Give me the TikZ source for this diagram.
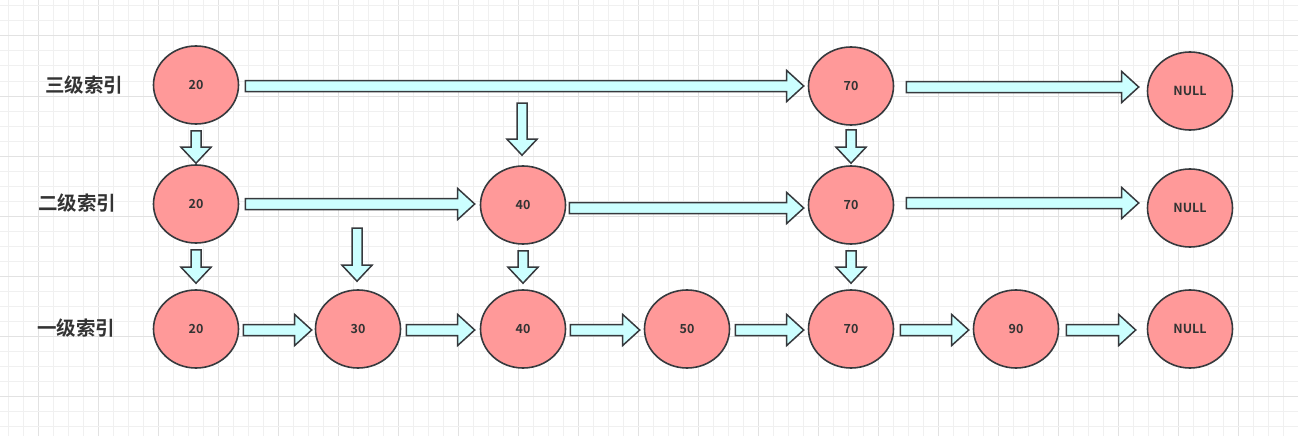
\documentclass[tikz,border=0pt]{standalone}
\usepackage{fontspec}
\usetikzlibrary{shapes.geometric,calc}
\newfontfamily\cjk{Noto Sans CJK SC}[BoldFont={Noto Sans CJK SC Bold}]
\definecolor{nodefill}{HTML}{FF9999}
\definecolor{arrfill}{HTML}{CCFFFF}
\definecolor{edge}{HTML}{36393D}
\definecolor{txt}{HTML}{333333}
\definecolor{gridminor}{HTML}{F0F0F0}
\definecolor{gridmajor}{HTML}{E2E2E2}
\tikzset{
  keynode/.style={ellipse, draw=edge, fill=nodefill, line width=1.6pt,
    minimum width=85pt, minimum height=78pt, inner sep=0pt,
    font=\cjk\bfseries\fontsize{12.5}{14}\selectfont, text=txt},
  lvl/.style={font=\cjk\bfseries\fontsize{19.5}{22}\selectfont, text=txt, inner sep=0pt},
  blk/.style={draw=edge, fill=arrfill, line width=1.5pt, line join=miter}
}
% horizontal block arrow from #1 to #2 (coordinates)
\newcommand{\harr}[2]{%
  \draw[blk] let \p1=#1, \p2=#2 in
    (\x1,\y1+5.5pt) -- (\x2-17pt,\y1+5.5pt) -- (\x2-17pt,\y1+15.5pt) -- (\x2,\y1)
    -- (\x2-17pt,\y1-15.5pt) -- (\x2-17pt,\y1-5.5pt) -- (\x1,\y1-5.5pt) -- cycle;}
% vertical (downward) block arrow from #1 to #2
\newcommand{\varr}[2]{%
  \draw[blk] let \p1=#1, \p2=#2 in
    (\x1-5pt,\y1) -- (\x1-5pt,\y2+16pt) -- (\x1-15pt,\y2+16pt) -- (\x1,\y2)
    -- (\x1+15pt,\y2+16pt) -- (\x1+5pt,\y2+16pt) -- (\x1+5pt,\y1) -- cycle;}
\begin{document}
\begin{tikzpicture}[x=1pt,y=-1pt]
\useasboundingbox (0,0) rectangle (1298,436);
\fill[white] (0,0) rectangle (1298,436);
% grid
\foreach \k in {0,...,86} {
  \pgfmathsetmacro{\gx}{8.3+15*\k}
  \pgfmathtruncatemacro{\m}{mod(\k,4)}
  \ifnum\m=2 \draw[gridmajor,line width=1pt] (\gx,0) -- (\gx,436);
  \else \draw[gridminor,line width=1pt] (\gx,0) -- (\gx,436); \fi
}
\foreach \k in {0,...,28} {
  \pgfmathsetmacro{\gy}{6+15*\k}
  \pgfmathtruncatemacro{\m}{mod(\k,4)}
  \ifnum\m=2 \draw[gridmajor,line width=1pt] (0,\gy) -- (1298,\gy);
  \else \draw[gridminor,line width=1pt] (0,\gy) -- (1298,\gy); \fi
}
% level labels
\node[lvl] (L3) at (84,85) {三级索引};
\node[lvl] (L2) at (77,203) {二级索引};
\node[lvl] (L1) at (76,328) {一级索引};
% nodes top
\node[keynode] (t20) at (196,85) {20};
\node[keynode] (t70) at (851,86) {70};
\node[keynode] (tN) at (1190,91) {NULL};
% middle
\node[keynode] (m20) at (196,204) {20};
\node[keynode] (m40) at (523,205) {40};
\node[keynode] (m70) at (851,205) {70};
\node[keynode] (mN) at (1190,208) {NULL};
% bottom
\node[keynode] (b20) at (196,329) {20};
\node[keynode] (b30) at (358,329) {30};
\node[keynode] (b40) at (523,329) {40};
\node[keynode] (b50) at (687,329) {50};
\node[keynode] (b70) at (851,329) {70};
\node[keynode] (b90) at (1016,329) {90};
\node[keynode] (bN) at (1190,329) {NULL};
% free ends
\coordinate (c40) at (522,103);
\coordinate (c30) at (357,228);
% top row arrows
\harr{($(t20.east)+(6,1)$)}{($(t70.west)+(-4,0)$)}
\harr{($(t70.east)+(12,1)$)}{($(tN.west)+(-8,0)$)}
% middle row arrows
\harr{($(m20.east)+(6,0)$)}{($(m40.west)+(-5,0)$)}
\harr{($(m40.east)+(3,3)$)}{($(m70.west)+(-4,0)$)}
\harr{($(m70.east)+(12,-2)$)}{($(mN.west)+(-8,0)$)}
% bottom row arrows
\harr{($(b20.east)+(4,1)$)}{($(b30.west)+(-3,0)$)}
\harr{($(b30.east)+(5,1)$)}{($(b40.west)+(-5,0)$)}
\harr{($(b40.east)+(4,1)$)}{($(b50.west)+(-4,0)$)}
\harr{($(b50.east)+(5,1)$)}{($(b70.west)+(-4,0)$)}
\harr{($(b70.east)+(6,1)$)}{($(b90.west)+(-4,0)$)}
\harr{($(b90.east)+(7,1)$)}{($(bN.west)+(-11,0)$)}
% vertical arrows
\varr{($(t20.south)+(0,6)$)}{($(m20.north)+(0,-1)$)}
\varr{(c40)}{($(m40.north)+(0,-10)$)}
\varr{($(t70.south)+(0,4)$)}{($(m70.north)+(0,-2)$)}
\varr{($(m20.south)+(0,6)$)}{($(b20.north)+(0,-6)$)}
\varr{(c30)}{($(b30.north)+(0,-8)$)}
\varr{($(m40.south)+(0,6)$)}{($(b40.north)+(0,-6)$)}
\varr{($(m70.south)+(0,6)$)}{($(b70.north)+(0,-6)$)}
\end{tikzpicture}
\end{document}
